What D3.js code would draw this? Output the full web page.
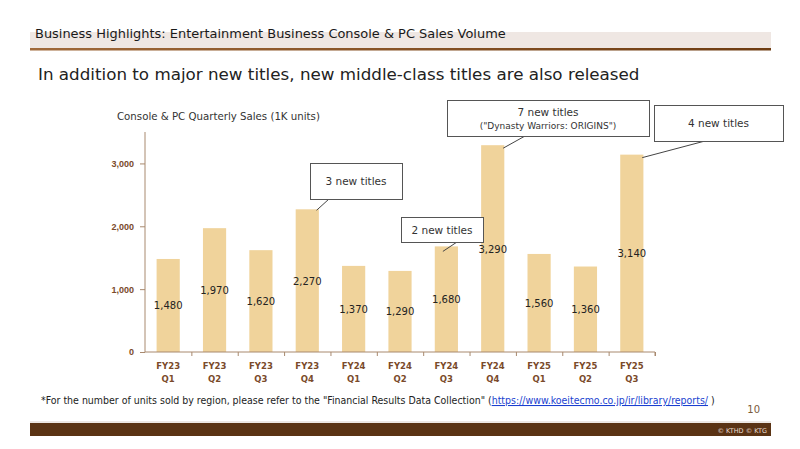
<!DOCTYPE html>
<html><head><meta charset="utf-8">
<script src="https://cdn.jsdelivr.net/npm/d3@7/dist/d3.min.js"></script>
<style>
body{margin:0;background:#fff;}
svg{display:block;font-family:"DejaVu Sans",Verdana,sans-serif;}
</style></head>
<body>
<svg id="c" width="800" height="449"></svg>
<script>
// ---- data ----
const fiscalYears = ["FY23","FY23","FY23","FY23","FY24","FY24","FY24","FY24","FY25","FY25","FY25"];
const quarters    = ["Q1","Q2","Q3","Q4","Q1","Q2","Q3","Q4","Q1","Q2","Q3"];
const sales       = [1480,1970,1620,2270,1370,1290,1680,3290,1560,1360,3140];
const yTicks      = [0,1000,2000,3000];
const calloutIdx   = [3,6,7,10];
const calloutMain  = ["3 new titles","2 new titles","7 new titles","4 new titles"];
const calloutSub   = ["","","(\"Dynasty Warriors: ORIGINS\")",""];

const headerTitle = "Business Highlights: Entertainment Business Console & PC Sales Volume";
const subTitle = "In addition to major new titles, new middle-class titles are also released";
const chartTitle = "Console & PC Quarterly Sales (1K units)";

const svg = d3.select("#c");
const cats = sales.map((d,i)=>i);

// fit helper
function fit(sel, w){ const l = sel.node().getComputedTextLength(); const fs = parseFloat(sel.attr("font-size")); sel.attr("font-size", (fs*w/l).toFixed(2)); }

// header
const hg = svg.append("defs").append("linearGradient").attr("id","hl");
hg.append("stop").attr("offset","0").attr("stop-color","#a0693a");
hg.append("stop").attr("offset","1").attr("stop-color","#6e3c12");
svg.append("rect").attr("x",30).attr("y",32).attr("width",741).attr("height",17).attr("fill","#efe7e3");
svg.append("rect").attr("x",30).attr("y",48).attr("width",741).attr("height",2.5).attr("fill","url(#hl)");
const ht = svg.append("text").attr("x",35).attr("y",38).attr("font-size",13).attr("fill","#1a1a1a").text(headerTitle);
fit(ht, 471);
const st = svg.append("text").attr("x",38).attr("y",80).attr("font-size",18).attr("fill","#222").text(subTitle);
fit(st, 602);
const ct = svg.append("text").attr("x",117).attr("y",120).attr("font-size",11).attr("fill","#333").text(chartTitle);
fit(ct, 203);

// scales
const x = d3.scaleBand().domain(cats).range([145,655]).paddingInner(0.5).paddingOuter(0.25);
const y = d3.scaleLinear().domain([0,3500]).range([352,132]);

// bars
svg.append("g").selectAll("rect").data(sales).join("rect")
  .attr("x",(d,i)=>x(i)).attr("width",x.bandwidth())
  .attr("y",d=>y(d)).attr("height",d=>y(0)-y(d))
  .attr("fill","#f0d39b");

// value labels
svg.append("g").selectAll("text").data(sales).join("text")
  .attr("x",(d,i)=>x(i)+x.bandwidth()/2)
  .attr("y",d=>(y(d)+y(0))/2+4)
  .attr("text-anchor","middle").attr("font-size",10).attr("fill","#222")
  .text(d=>d3.format(",")(d));

// y axis
const yAxis = d3.axisLeft(y).tickValues(yTicks).tickFormat(d3.format(",")).tickSize(5).tickPadding(6);
const ya = svg.append("g").attr("transform","translate(145,0)").call(yAxis);
ya.select(".domain").attr("stroke","#a8896e").attr("d","M0,132V352");
ya.selectAll(".tick line").attr("stroke","#a8896e");
ya.selectAll(".tick text").attr("fill","#7a4a2a").attr("font-size",9).attr("font-weight","bold");

// x axis
const xs = d3.scaleLinear().domain([0,11]).range([145,655]);
const xa = svg.append("g").attr("transform","translate(0,352)").call(
  d3.axisBottom(xs).tickValues(d3.range(1,12)).tickSize(4).tickFormat(""));
xa.select(".domain").attr("stroke","#a8896e").attr("d","M145,0H655V4");
xa.selectAll(".tick line").attr("stroke","#a8896e");
const xl = svg.append("g").selectAll("text").data(cats).join("text")
  .attr("x",i=>x(i)+x.bandwidth()/2).attr("text-anchor","middle")
  .attr("font-size",8.5).attr("font-weight","bold").attr("fill","#7a4a2a");
xl.append("tspan").attr("x",i=>x(i)+x.bandwidth()/2).attr("y",369).text(i=>fiscalYears[i]);
xl.append("tspan").attr("x",i=>x(i)+x.bandwidth()/2).attr("y",382).text(i=>quarters[i]);

// callouts (layout)
const boxes = [
  {x:310,y:163,w:92,h:36,lx:329},
  {x:401,y:217,w:82,h:25,lx:457},
  {x:447,y:100,w:202,h:36,lx:525},
  {x:654,y:105,w:129,h:36,lx:705}
];
calloutIdx.forEach((ci,k)=>{
  const b = boxes[k];
  const tx = x(ci)+x.bandwidth()*([0.9,0.35,0.95,0.95][k]);
  const ty = y(sales[ci]) + [1,5,3,3][k];
  svg.append("line").attr("x1",b.lx).attr("y1",b.y+b.h).attr("x2",tx).attr("y2",ty)
    .attr("stroke","#444").attr("stroke-width",1);
  svg.append("rect").attr("x",b.x+0.5).attr("y",b.y+0.5).attr("width",b.w).attr("height",b.h)
    .attr("fill","#fff").attr("stroke","#555").attr("stroke-width",1);
  if(calloutSub[k]){
    svg.append("text").attr("x",b.x+b.w/2).attr("y",b.y+16).attr("text-anchor","middle")
      .attr("font-size",10.5).attr("fill","#333").text(calloutMain[k]);
    svg.append("text").attr("x",b.x+b.w/2).attr("y",b.y+29).attr("text-anchor","middle")
      .attr("font-size",9).attr("fill","#333").text(calloutSub[k]);
  } else {
    svg.append("text").attr("x",b.x+b.w/2).attr("y",b.y+b.h/2+4).attr("text-anchor","middle")
      .attr("font-size",10.5).attr("fill","#333").text(calloutMain[k]);
  }
});

// footnote
const fn = svg.append("text").attr("x",41).attr("y",404).attr("font-size",10)
  .attr("font-family","'DejaVu Sans Condensed','DejaVu Sans',sans-serif").attr("fill","#222");
fn.append("tspan").text("*For the number of units sold by region, please refer to the \"Financial Results Data Collection\" (");
fn.append("tspan").attr("fill","#1a3fd0").attr("text-decoration","underline").text("https://www.koeitecmo.co.jp/ir/library/reports/");
fn.append("tspan").text(" )");
fit(fn, 674);

svg.append("text").attr("x",760).attr("y",413).attr("text-anchor","end").attr("font-size",10).attr("fill","#7a5a3a").text("10");
svg.append("rect").attr("x",30).attr("y",421.5).attr("width",741).attr("height",1).attr("fill","#d9d0c8");
svg.append("rect").attr("x",30).attr("y",423).attr("width",741).attr("height",13).attr("fill","#5a3314");
svg.append("text").attr("x",767).attr("y",433).attr("text-anchor","end").attr("font-size",6.5).attr("fill","#e8ddd2").text("© KTHD © KTG");
</script>
</body></html>
